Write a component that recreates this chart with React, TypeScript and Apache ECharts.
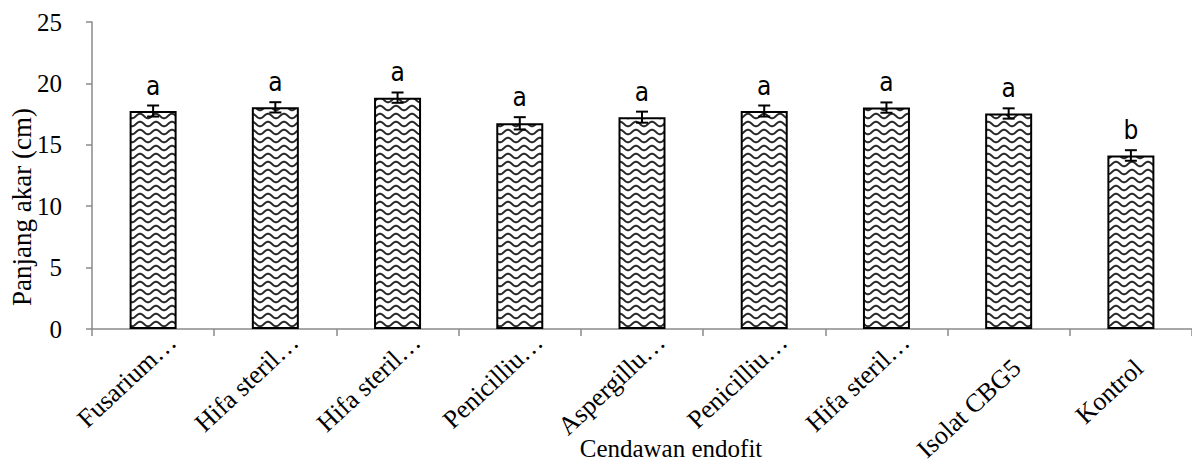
import React, { useEffect, useRef } from "react";
import * as echarts from "echarts";

// ---- data ----
const categories = [
  "Fusarium…",
  "Hifa steril…",
  "Hifa steril…",
  "Penicilliu…",
  "Aspergillu…",
  "Penicilliu…",
  "Hifa steril…",
  "Isolat CBG5",
  "Kontrol",
];
const meanValues = [17.75, 18.05, 18.84, 16.75, 17.25, 17.75, 18.03, 17.55, 14.13];
const errorValues = [0.45, 0.42, 0.42, 0.5, 0.45, 0.45, 0.42, 0.42, 0.43];
const letters = ["a", "a", "a", "a", "a", "a", "a", "a", "b"];
const yMin = 0;
const yMax = 25;
const yInterval = 5;
const yAxisTitle = "Panjang akar (cm)";
const xAxisTitle = "Cendawan endofit";

const SERIF = '"Liberation Serif", "Times New Roman", serif';
const SANS = '"Liberation Sans Narrow", "DejaVu Sans Condensed", "Noto Sans", sans-serif';
const AXIS_GRAY = "#8a8a8a";

function makeWaveTile(): HTMLCanvasElement {
  const w = 16;
  const h = 8;
  const c = document.createElement("canvas");
  c.width = w;
  c.height = h;
  const ctx = c.getContext("2d")!;
  ctx.fillStyle = "#ffffff";
  ctx.fillRect(0, 0, w, h);
  ctx.strokeStyle = "#2a2a2a";
  ctx.lineWidth = 2;
  ctx.beginPath();
  for (let x = -2; x <= w + 2; x += 0.5) {
    const y = h / 2 + 2.2 * Math.sin((2 * Math.PI * x) / w);
    if (x === -2) ctx.moveTo(x, y);
    else ctx.lineTo(x, y);
  }
  ctx.stroke();
  return c;
}

export default function App() {
  const ref = useRef<HTMLDivElement>(null);

  useEffect(() => {
    if (!ref.current) return;
    const chart = echarts.init(ref.current, undefined, { renderer: "svg" });
    const tile = makeWaveTile();

    const errData = categories.map((_, i) => [i, meanValues[i], errorValues[i]]);
    const labelData = categories.map((_, i) => [i, 0]);

    const option: any = {
      animation: false,
      backgroundColor: "#ffffff",
      grid: { left: 92, right: -3, top: 22, bottom: 134, containLabel: false },
      xAxis: {
        type: "category",
        data: categories,
        axisLine: { show: true, lineStyle: { color: AXIS_GRAY, width: 1.5 } },
        axisTick: { show: true, length: 7, lineStyle: { color: AXIS_GRAY, width: 1.5 } },
        axisLabel: { show: false },
        splitLine: { show: false },
      },
      yAxis: {
        type: "value",
        min: yMin,
        max: yMax,
        interval: yInterval,
        axisLine: { show: true, lineStyle: { color: AXIS_GRAY, width: 1.5 } },
        axisTick: { show: true, length: 6, lineStyle: { color: AXIS_GRAY, width: 1.5 } },
        axisLabel: { color: "#000", fontFamily: SERIF, fontSize: 25, margin: 30 },
        splitLine: { show: false },
      },
      graphic: [
        {
          type: "text",
          x: 22,
          y: 207,
          rotation: Math.PI / 2,
          style: {
            text: yAxisTitle,
            font: `27px ${SERIF}`,
            fill: "#000",
            align: "center",
            verticalAlign: "middle",
          },
        },
        {
          type: "text",
          x: 671,
          y: 448,
          style: {
            text: xAxisTitle,
            font: `25px ${SERIF}`,
            fill: "#000",
            align: "center",
            verticalAlign: "middle",
          },
        },
      ],
      series: [
        {
          type: "bar",
          data: meanValues,
          barWidth: 47,
          itemStyle: {
            color: { image: tile, repeat: "repeat", imageWidth: 16, imageHeight: 8 },
            borderColor: "#000",
            borderWidth: 2,
          },
          z: 2,
        },
        {
          type: "custom",
          data: errData,
          z: 3,
          renderItem: (params: any, api: any) => {
            const i = api.value(0);
            const v = api.value(1);
            const e = api.value(2);
            const top = api.coord([i, v + e]);
            const bot = api.coord([i, v - e]);
            const hw = 6;
            const st = { stroke: "#000", lineWidth: 2 };
            return {
              type: "group",
              children: [
                { type: "line", shape: { x1: top[0], y1: top[1], x2: bot[0], y2: bot[1] }, style: st },
                { type: "line", shape: { x1: top[0] - hw, y1: top[1], x2: top[0] + hw, y2: top[1] }, style: st },
                { type: "line", shape: { x1: bot[0] - hw, y1: bot[1], x2: bot[0] + hw, y2: bot[1] }, style: st },
                {
                  type: "text",
                  x: top[0],
                  y: top[1] - 20,
                  style: {
                    text: letters[params.dataIndex],
                    font: `26px ${SANS}`,
                    fill: "#000",
                    align: "center",
                    verticalAlign: "middle",
                  },
                },
              ],
            };
          },
        },
        {
          type: "custom",
          data: labelData,
          clip: false,
          silent: true,
          renderItem: (params: any, api: any) => {
            const i = api.value(0);
            const p = api.coord([i, 0]);
            const text = categories[params.dataIndex];
            const truncated = text.endsWith("…");
            const dx = truncated ? 19 : 8;
            const dy = truncated ? 9 : 35;
            return {
              type: "text",
              x: p[0] + dx,
              y: p[1] + dy,
              rotation: (43 * Math.PI) / 180,
              style: {
                text,
                font: `26px ${SERIF}`,
                fill: "#000",
                align: "right",
                verticalAlign: "middle",
              },
            };
          },
        },
      ],
    };

    chart.setOption(option);
    return () => chart.dispose();
  }, []);

  return (
    <div
      ref={ref}
      style={{ position: "absolute", left: 0, top: 0, width: 1192, height: 463, background: "#fff" }}
    />
  );
}
